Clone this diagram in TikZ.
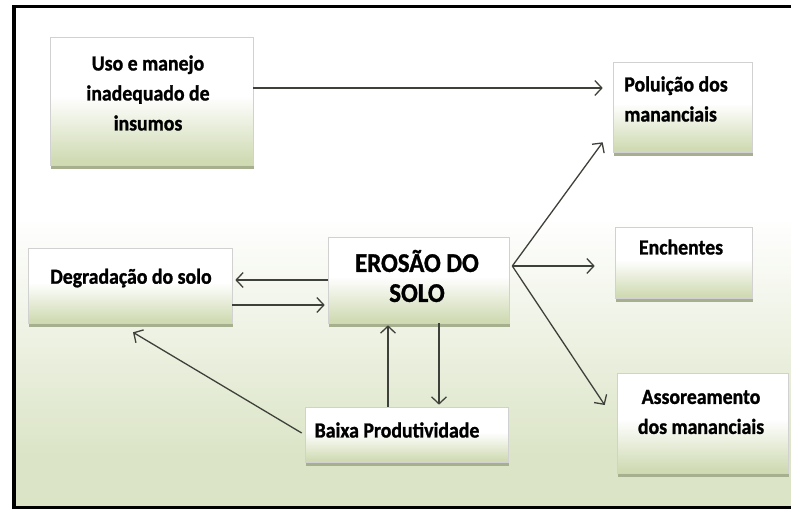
\documentclass[tikz,border=0pt]{standalone}
\usepackage{fontspec}
\setmainfont{Carlito}[FakeStretch=0.92, BoldFeatures={FakeBold=1.2}]
\usetikzlibrary{arrows.meta,calc,shadows}
\definecolor{bgg}{RGB}{219,228,198}
\definecolor{boxg}{RGB}{208,219,180}
\definecolor{shadg}{RGB}{166,176,143}
\definecolor{linec}{RGB}{62,65,58}
\pgfdeclareverticalshading{bgshade}{100bp}{color(0bp)=(bgg); color(30bp)=(bgg); color(54bp)=(white); color(100bp)=(white)}
\pgfdeclareverticalshading{boxshade}{100bp}{color(0bp)=(boxg); color(27bp)=(boxg); color(52bp)=(white); color(100bp)=(white)}
\begin{document}
\begin{tikzpicture}[x=1pt,y=-1pt,
  box/.style={draw=black!18, line width=0.6pt, shade, shading=boxshade,
    drop shadow={shadow xshift=1pt, shadow yshift=-3.5pt, fill=shadg, opacity=1},
    inner sep=0pt},
  txt/.style={font=\bfseries\fontsize{21.5}{30}\selectfont, align=center, inner sep=0pt, text=black},
  arr/.style={draw=linec, line width=1.3pt, -{Straight Barb[length=7pt,width=15pt]}}]
\useasboundingbox (0,0) rectangle (791,511);
\clip (0,0) rectangle (791,511);
\fill[white] (0,0) rectangle (791,511);
\shade[shading=bgshade] (14,6.5) rectangle (800,507.5);
\draw[line width=3.5pt] (14,6.5) rectangle (800,507.5);

% boxes
\node[box, minimum width=203pt, minimum height=128pt] (uso) at (151.5,101) {};
\node[box, minimum width=139pt, minimum height=90pt] (pol) at (682.5,107) {};
\node[box, minimum width=137pt, minimum height=71pt] (enc) at (683.5,262.5) {};
\node[box, minimum width=171pt, minimum height=100pt] (ass) at (702.5,423) {};
\node[box, minimum width=204pt, minimum height=75pt] (deg) at (130,285.5) {};
\node[box, minimum width=181pt, minimum height=86pt] (ero) at (418.5,280) {};
\node[box, minimum width=203pt, minimum height=55pt] (bai) at (406.5,434.5) {};

% texts
\node[txt] (usot) at (148,93) {Uso e manejo\\inadequado de\\insumos};
\node[txt, align=left] (polt) at (676,99) {Poluição dos\\mananciais};
\node[txt] (enct) at (681,247) {Enchentes};
\node[txt] (asst) at (701,412) {Assoreamento\\dos mananciais};
\node[txt] (degt) at (131,278) {Degradação do solo};
\node[txt, font=\bfseries\fontsize{27}{30}\selectfont] (erot) at (417,276) {EROSÃO DO\\SOLO};
\node[txt] (bait) at (397,430) {Baixa Produtividade};

% connectors
\coordinate (u1) at ([yshift=13pt]uso.east);
\draw[arr, shorten >=10pt] (u1) -- (u1 -| pol.west);
\coordinate (fan) at ([xshift=3pt,yshift=14pt]ero.east);
\draw[arr] (fan) -- ([xshift=-10pt,yshift=10pt]pol.south west);
\draw[arr, shorten >=20pt] (fan) -- (fan -| enc.west);
\draw[arr] (fan) -- ([xshift=-12pt,yshift=18pt]ass.west);
\draw[arr, shorten >=3pt] (ero.west) -- (ero.west -| deg.east);
\coordinate (d1) at ([yshift=-19.5pt]deg.east);
\draw[arr, shorten >=3pt] (d1) -- (d1 -| ero.west);
\draw[arr] ([xshift=-3pt,yshift=1.5pt]bai.west) -- ([xshift=3pt,yshift=-9pt]deg.south);
\coordinate (b1) at ([xshift=-18.5pt]bai.north);
\draw[arr, shorten >=2pt] (b1) -- (b1 |- ero.south);
\coordinate (e1) at ([xshift=20.5pt]ero.south);
\draw[arr, shorten >=2pt] (e1) -- (e1 |- bai.north);
\end{tikzpicture}
\end{document}
